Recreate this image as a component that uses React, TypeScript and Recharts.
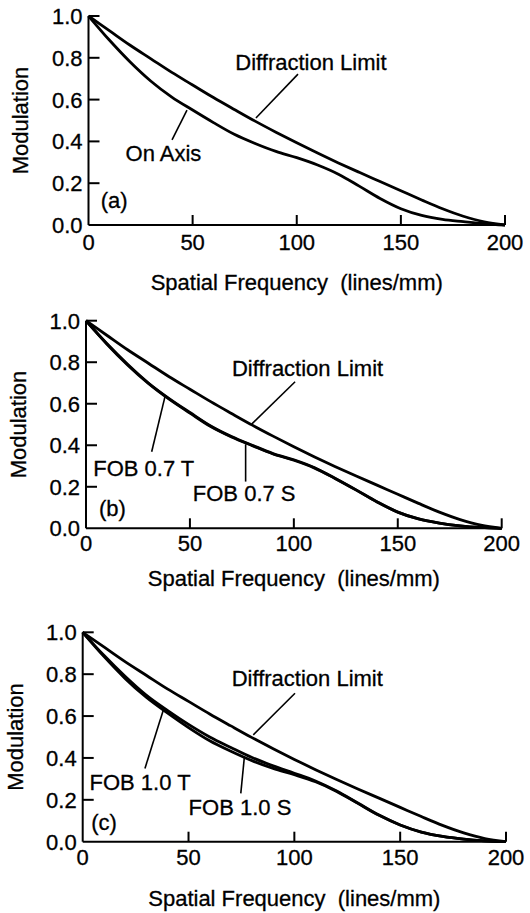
import React from 'react';
import { LineChart, Line, XAxis, YAxis, ReferenceLine, ReferenceDot } from 'recharts';

const FONT = '"Liberation Sans", Arial, Helvetica, sans-serif';
const FS = 22;

// spatial frequency samples (lines/mm)
const frequency = [0, 10, 20, 30, 40, 50, 60, 70, 80, 90, 100, 110, 120, 130, 140, 150, 160, 170, 180, 190, 200];

// modulation
const diffractionLimit = [1.0, 0.93, 0.86, 0.795, 0.73, 0.67, 0.61, 0.553, 0.497, 0.444, 0.393, 0.344, 0.297, 0.252, 0.208, 0.164, 0.12, 0.078, 0.042, 0.015, 0];
const onAxis = [1.0, 0.885, 0.78, 0.688, 0.612, 0.55, 0.49, 0.434, 0.39, 0.352, 0.322, 0.287, 0.243, 0.186, 0.127, 0.078, 0.046, 0.027, 0.016, 0.006, 0];
const fob07T = [1.0, 0.89, 0.79, 0.7, 0.625, 0.558, 0.493, 0.442, 0.4, 0.36, 0.33, 0.292, 0.24, 0.185, 0.128, 0.078, 0.045, 0.025, 0.012, 0.004, 0];
const fob07S = [1.0, 0.888, 0.787, 0.698, 0.622, 0.555, 0.49, 0.44, 0.398, 0.358, 0.328, 0.29, 0.239, 0.184, 0.127, 0.078, 0.045, 0.025, 0.012, 0.004, 0];
const fob10T = [1.0, 0.885, 0.78, 0.69, 0.615, 0.545, 0.482, 0.432, 0.387, 0.35, 0.32, 0.286, 0.24, 0.183, 0.126, 0.08, 0.046, 0.025, 0.012, 0.004, 0];
const fob10S = [1.0, 0.89, 0.79, 0.7, 0.627, 0.56, 0.5, 0.45, 0.402, 0.362, 0.327, 0.29, 0.242, 0.185, 0.127, 0.08, 0.046, 0.025, 0.012, 0.004, 0];

const xTicks = [0, 50, 100, 150, 200];
const yTicks = [0, 0.2, 0.4, 0.6, 0.8, 1.0];

type Note = { text: string; x: number; y: number };
type Leader = [number, number, number, number];

type PanelProps = {
  top: number;
  height: number;
  marginTop: number;
  marginRight: number;
  yAxisWidth: number;
  xAxisHeight: number;
  tickGap: number;
  titleGap: number;
  yTitleX: number;
  series: number[][];
  notes: Note[];
  leaders: Leader[];
};

const textProps = { fontSize: FS, fontFamily: FONT, fill: '#000', stroke: '#000', strokeWidth: 0.3 };

const YTick = ({ x, y, payload }: any) => (
  <g>
    {payload.value > 0 && <line x1={x} y1={y} x2={x + 11} y2={y} stroke="#000" strokeWidth={2} />}
    <text x={x - 6} y={y} dy="0.36em" textAnchor="end" {...textProps}>
      {Number(payload.value).toFixed(1)}
    </text>
  </g>
);

const makeXTick = (gap: number) => ({ x, y, payload }: any) => (
  <g>
    {payload.value > 0 && <line x1={x} y1={y} x2={x} y2={y - 10} stroke="#000" strokeWidth={2} />}
    <text x={x} y={y + gap} dy="0.36em" textAnchor="middle" {...textProps}>
      {payload.value}
    </text>
  </g>
);

const YTitle = ({ viewBox, cx }: any) => {
  const cy = viewBox.y + viewBox.height / 2;
  return (
    <text x={cx} y={cy} dy="0.36em" transform={`rotate(-90 ${cx} ${cy})`} textAnchor="middle" {...textProps}>
      Modulation
    </text>
  );
};

const XTitle = ({ viewBox, gap }: any) => (
  <text x={viewBox.x + viewBox.width / 2} y={viewBox.y + gap} dy="0.36em" textAnchor="middle"
    {...textProps} style={{ whiteSpace: 'pre' }}>
    {'Spatial Frequency  (lines/mm)'}
  </text>
);

const NoteText = ({ viewBox, text }: any) => (
  <text x={viewBox.x + viewBox.width / 2} y={viewBox.y + viewBox.height / 2} dy="0.36em" textAnchor="middle"
    {...textProps}>
    {text}
  </text>
);

const Panel = (p: PanelProps) => {
  const data = frequency.map((f, i) => {
    const row: any = { f, dl: diffractionLimit[i] };
    p.series.forEach((s, k) => (row['s' + k] = s[i]));
    return row;
  });
  return (
    <div style={{ position: 'absolute', left: 0, top: p.top }}>
      <LineChart width={530} height={p.height} data={data}
        margin={{ top: p.marginTop, right: p.marginRight, left: 0, bottom: 0 }}>
        <XAxis dataKey="f" type="number" domain={[0, 200]} ticks={xTicks} height={p.xAxisHeight}
          axisLine={{ stroke: '#000', strokeWidth: 2 }} tickLine={false} tickSize={0} tickMargin={0}
          tick={makeXTick(p.tickGap)} label={<XTitle gap={p.titleGap} />} />
        <YAxis type="number" domain={[0, 1]} ticks={yTicks} width={p.yAxisWidth}
          axisLine={{ stroke: '#000', strokeWidth: 2 }} tickLine={false} tickSize={0} tickMargin={0}
          tick={YTick} label={<YTitle cx={p.yTitleX} />} />
        <Line dataKey="dl" type="monotone" stroke="#000" strokeWidth={2.8} dot={false} isAnimationActive={false} />
        {p.series.map((_, k) => (
          <Line key={k} dataKey={'s' + k} type="monotone" stroke="#000" strokeWidth={2.8} dot={false}
            isAnimationActive={false} />
        ))}
        {p.leaders.map((l, i) => (
          <ReferenceLine key={'l' + i} segment={[{ x: l[0], y: l[1] }, { x: l[2], y: l[3] }]}
            stroke="#000" strokeWidth={1.6} />
        ))}
        {p.notes.map((n, i) => (
          <ReferenceDot key={'n' + i} x={n.x} y={n.y} r={0} fill="none" stroke="none"
            label={<NoteText text={n.text} />} />
        ))}
      </LineChart>
    </div>
  );
};

export default function App() {
  return (
    <div style={{ position: 'absolute', left: 0, top: 0, width: 530, height: 913, background: '#fff' }}>
      <Panel top={0} height={300} marginTop={16} marginRight={25} yAxisWidth={88.5} xAxisHeight={75}
        tickGap={17} titleGap={57} yTitleX={20} series={[onAxis]}
        notes={[
          { text: 'Diffraction Limit', x: 106.8, y: 0.78 },
          { text: 'On Axis', x: 36, y: 0.344 },
          { text: '(a)', x: 12.3, y: 0.12 },
        ]}
        leaders={[[100.6, 0.722, 80.4, 0.512], [40.1, 0.407, 47.3, 0.55]]} />
      <Panel top={300} height={300} marginTop={20.7} marginRight={28.3} yAxisWidth={86} xAxisHeight={71.7}
        tickGap={15} titleGap={50} yTitleX={18} series={[fob07T, fob07S]}
        notes={[
          { text: 'Diffraction Limit', x: 106.6, y: 0.771 },
          { text: 'FOB 0.7 T', x: 27.8, y: 0.289 },
          { text: 'FOB 0.7 S', x: 76.1, y: 0.169 },
          { text: '(b)', x: 12.7, y: 0.096 },
        ]}
        leaders={[[100.6, 0.706, 79.7, 0.502], [31.6, 0.369, 38, 0.634], [76.8, 0.225, 76.8, 0.405]]} />
      <Panel top={600} height={313} marginTop={32.3} marginRight={24} yAxisWidth={82.7} xAxisHeight={71.3}
        tickGap={15} titleGap={56} yTitleX={15} series={[fob10T, fob10S]}
        notes={[
          { text: 'Diffraction Limit', x: 106.1, y: 0.78 },
          { text: 'FOB 1.0 T', x: 27.1, y: 0.287 },
          { text: 'FOB 1.0 S', x: 74.3, y: 0.167 },
          { text: '(c)', x: 10.1, y: 0.096 },
        ]}
        leaders={[[100.3, 0.709, 80.6, 0.51], [29.4, 0.35, 38.1, 0.629], [74.7, 0.231, 76.4, 0.406]]} />
    </div>
  );
}
